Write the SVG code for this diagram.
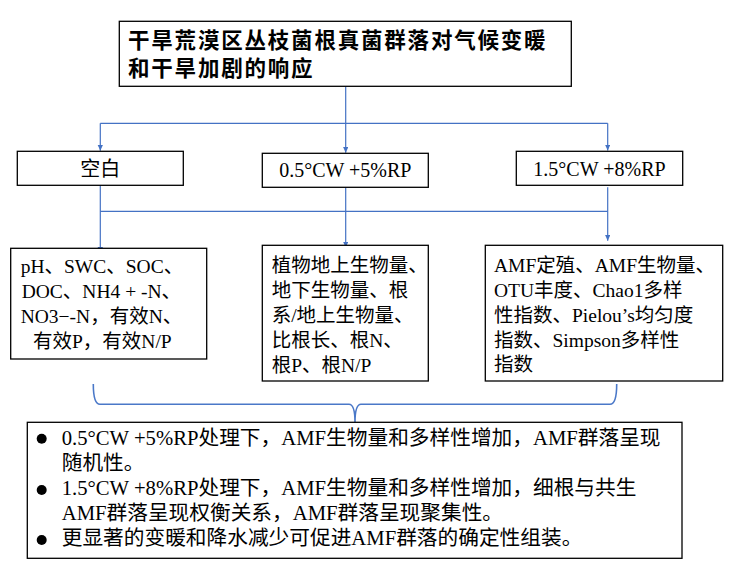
<svg xmlns="http://www.w3.org/2000/svg" width="734" height="572" viewBox="0 0 734 572">
  <style>
    .box { fill: #ffffff; stroke: #000000; stroke-width: 1.3; }
    .conn { fill: none; stroke: #4472C4; stroke-width: 1.2; }
    .brace { fill: none; stroke: #4A78C8; stroke-width: 1.6; }
    .title { font-family: "Liberation Sans", "Noto Sans CJK SC", sans-serif; font-weight: bold; font-size: 21.5px; letter-spacing: 1.8px; fill: #000; }
    .t { font-family: "Liberation Serif", "Noto Sans CJK SC", serif; font-size: 19.5px; fill: #000; }
    .tc { font-family: "Liberation Serif", "Noto Sans CJK SC", serif; font-size: 20px; fill: #000; text-anchor: middle; }
    .tb { font-family: "Liberation Serif", "Noto Sans CJK SC", serif; font-size: 20.7px; fill: #000; }
  </style>
  <defs>
    <marker id="arr" markerUnits="userSpaceOnUse" markerWidth="8" markerHeight="8" refX="6" refY="2.75" orient="auto">
      <path d="M0,0 L6,2.75 L0,5.5 z" fill="#4472C4"/>
    </marker>
  </defs>

  <rect x="0" y="0" width="734" height="572" fill="#ffffff"/>

  <g id="connectors">
    <line class="conn" x1="345.7" y1="86.3" x2="345.7" y2="152.7" marker-end="url(#arr)"/>
    <line class="conn" x1="100.3" y1="123.3" x2="607.7" y2="123.3"/>
    <line class="conn" x1="100.3" y1="123.3" x2="100.3" y2="150.7" marker-end="url(#arr)"/>
    <line class="conn" x1="607.7" y1="123.3" x2="607.7" y2="150.5" marker-end="url(#arr)"/>
    <line class="conn" x1="100.3" y1="185.3" x2="100.3" y2="253" marker-end="url(#arr)"/>
    <line class="conn" x1="345.7" y1="187.3" x2="345.7" y2="247.5" marker-end="url(#arr)"/>
    <line class="conn" x1="607.7" y1="187.3" x2="607.7" y2="240.7" marker-end="url(#arr)"/>
    <line class="conn" x1="100.3" y1="211.3" x2="607.7" y2="211.3"/>
    <path class="brace" d="M93.3,384 Q93.3,404.3 100,404.3 L349,404.3 Q355,404.3 355,422.5 Q355,404.3 361,404.3 L610,404.3 Q616.7,404.3 616.7,384"/>
  </g>

  <g id="title">
    <rect class="box" x="119.3" y="21.3" width="452" height="65"/>
    <text class="title" x="128" y="48">干旱荒漠区丛枝菌根真菌群落对气候变暖</text>
    <text class="title" x="128" y="75.5">和干旱加剧的响应</text>
  </g>

  <g id="ctrl">
    <rect class="box" x="17.3" y="151.3" width="166" height="34"/>
    <text class="tc" x="100.3" y="176">空白</text>
  </g>

  <g id="t05">
    <rect class="box" x="262.3" y="153.3" width="166" height="34"/>
    <text class="tc" x="345.3" y="177">0.5°CW +5%RP</text>
  </g>

  <g id="t15">
    <rect class="box" x="516.3" y="151.3" width="166.4" height="34"/>
    <text class="tc" x="599.5" y="176">1.5°CW +8%RP</text>
  </g>

  <g id="soil">
    <rect class="box" x="10.7" y="248.3" width="196" height="110.7"/>
    <text class="t" x="20.7" y="273">pH、SWC、SOC、</text>
    <text class="t" x="21.7" y="298">DOC、NH4 + -N、</text>
    <text class="t" x="20.7" y="323">NO3−-N，有效N、</text>
    <text class="t" x="33" y="348">有效P，有效N/P</text>
  </g>

  <g id="plant">
    <rect class="box" x="262.3" y="245.3" width="166" height="135.7"/>
    <text class="t" x="271.7" y="272">植物地上生物量、</text>
    <text class="t" x="271.7" y="297">地下生物量、根</text>
    <text class="t" x="271.7" y="322">系/地上生物量、</text>
    <text class="t" x="271.7" y="347">比根长、根N、</text>
    <text class="t" x="271.7" y="372">根P、根N/P</text>
  </g>

  <g id="amf">
    <rect class="box" x="485.3" y="245.3" width="237.4" height="135.7"/>
    <text class="t" x="494" y="272">AMF定殖、AMF生物量、</text>
    <text class="t" x="494" y="297">OTU丰度、Chao1多样</text>
    <text class="t" x="494" y="322">性指数、Pielou’s均匀度</text>
    <text class="t" x="494" y="347">指数、Simpson多样性</text>
    <text class="t" x="494" y="371">指数</text>
  </g>

  <g id="summary">
    <rect class="box" x="27.3" y="422.3" width="654.7" height="136"/>
    <circle cx="41.7" cy="438.8" r="5" fill="#000"/>
    <circle cx="41.7" cy="490" r="5" fill="#000"/>
    <circle cx="41.7" cy="540" r="5" fill="#000"/>
    <text class="tb" x="61.7" y="445">0.5°CW +5%RP处理下，AMF生物量和多样性增加，AMF群落呈现</text>
    <text class="tb" x="61.7" y="470">随机性。</text>
    <text class="tb" x="61.7" y="495">1.5°CW +8%RP处理下，AMF生物量和多样性增加，细根与共生</text>
    <text class="tb" x="61.7" y="520">AMF群落呈现权衡关系，AMF群落呈现聚集性。</text>
    <text class="tb" x="61.7" y="545">更显著的变暖和降水减少可促进AMF群落的确定性组装。</text>
  </g>
</svg>
